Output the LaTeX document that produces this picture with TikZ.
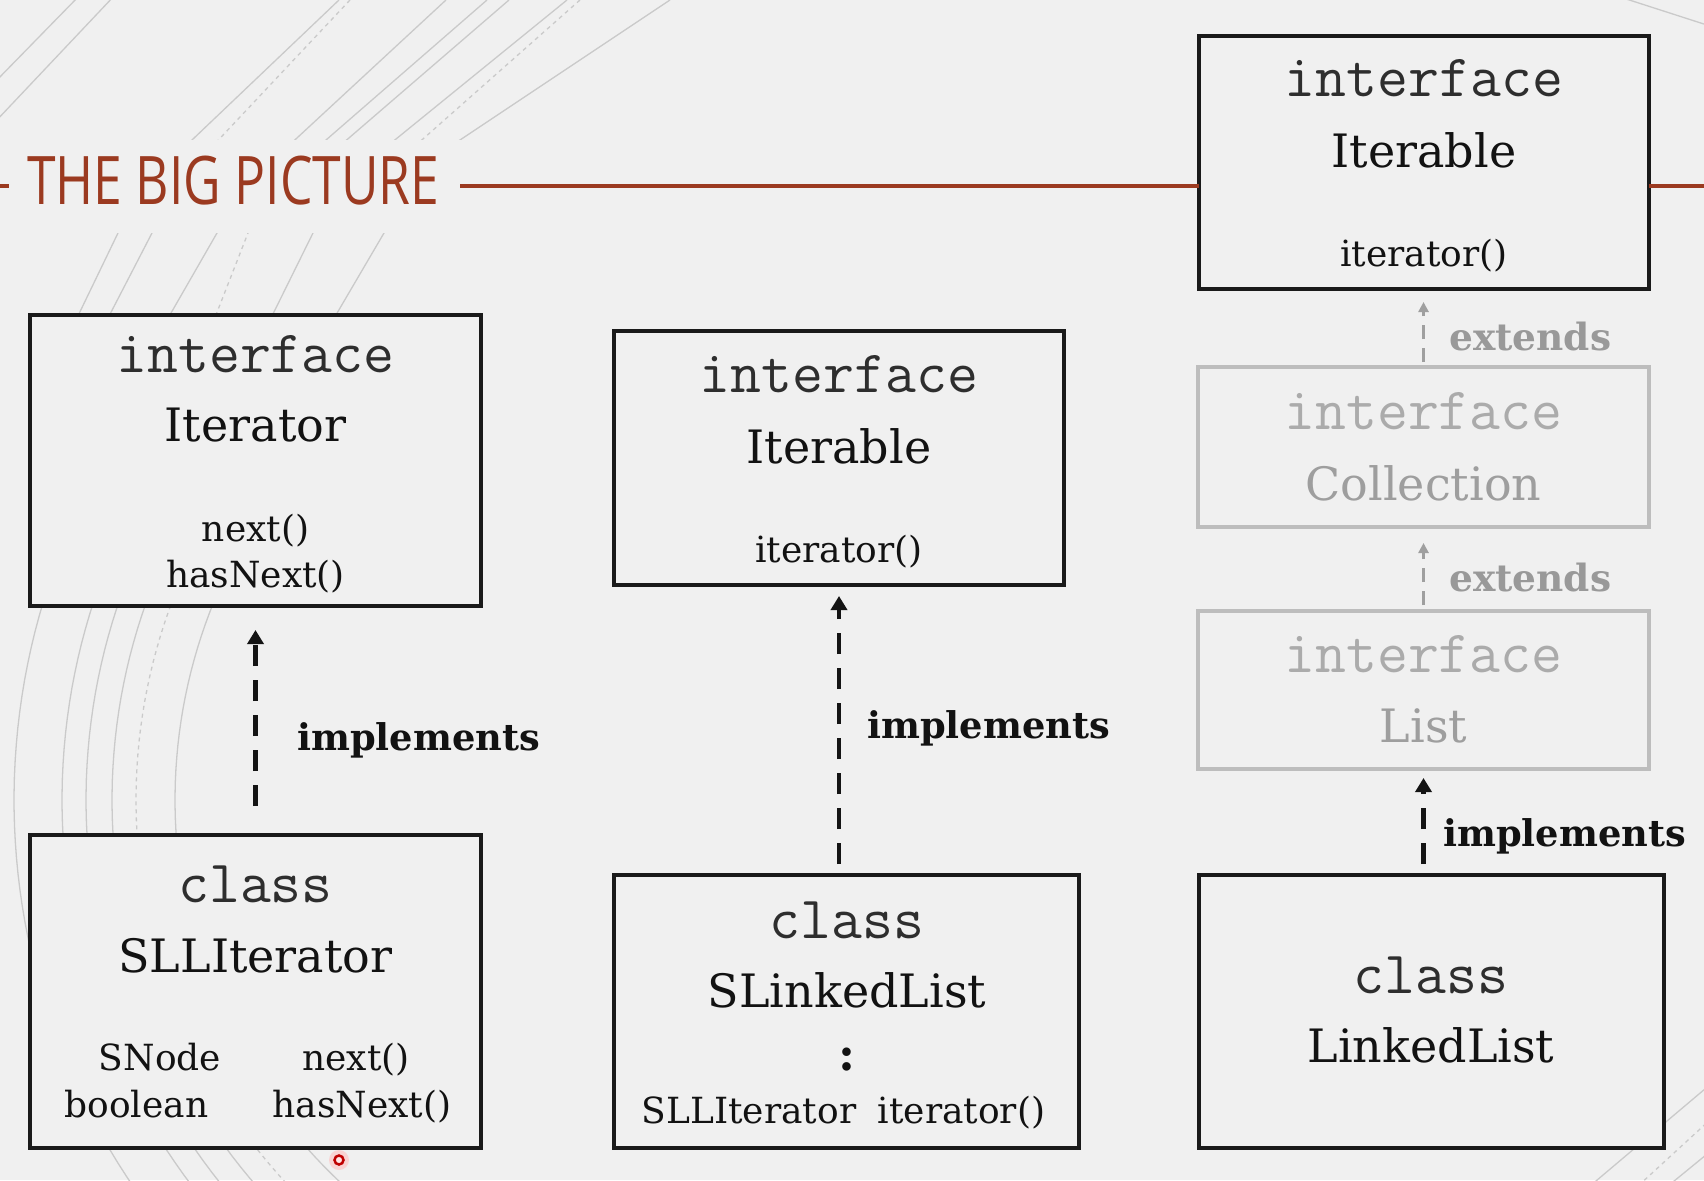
\documentclass[tikz,border=0pt]{standalone}
\usepackage{fontspec}
\setmainfont{DejaVu Serif}
\newfontfamily\titlefont{Open Sans}
\usetikzlibrary{arrows.meta}
\definecolor{bg}{HTML}{F0F0F0}
\definecolor{titlered}{RGB}{155,58,32}
\definecolor{boxline}{HTML}{1A1A1A}
\definecolor{grayline}{HTML}{BDBDBD}
\definecolor{monotext}{HTML}{2E2E2E}
\definecolor{nametext}{HTML}{121212}
\definecolor{graymono}{HTML}{ABABAB}
\definecolor{grayname}{HTML}{9E9E9E}
\definecolor{graylabel}{HTML}{999999}
\definecolor{arcline}{HTML}{CACACA}
\begin{document}
\begin{tikzpicture}[x=1pt,y=-1pt,
  box/.style={draw=boxline, line width=4.5pt, fill=bg, inner sep=0pt, outer sep=0pt, anchor=north west},
  gbox/.style={draw=grayline, line width=3.5pt, fill=bg, inner sep=0pt, outer sep=0pt, anchor=north west},
  kw/.style={font=\ttfamily\fontsize{60}{60}\selectfont, text=monotext, anchor=base, inner sep=0pt},
  gkw/.style={kw, text=graymono},
  nm/.style={font=\fontsize{46}{46}\selectfont, text=nametext, anchor=base, inner sep=0pt},
  gnm/.style={nm, text=grayname},
  mb/.style={font=\fontsize{36}{36}\selectfont, text=nametext, anchor=base, inner sep=0pt},
  rel/.style={font=\bfseries\fontsize{36.8}{37}\selectfont, text=nametext, anchor=base west, inner sep=0pt},
  grel/.style={rel, font=\bfseries\fontsize{37.5}{38}\selectfont, text=graylabel},
  impl/.style={draw=black!92, line width=4.5pt, dash pattern=on 21pt off 14pt, -{Triangle[length=14pt,width=16pt]}},
  ext/.style={draw=gray!75, line width=3pt, dash pattern=on 14pt off 9pt, -{Triangle[length=10pt,width=10pt]}},
  bgarc/.style={draw=arcline, line width=1.3pt},
  dotarc/.style={bgarc, dash pattern=on 4pt off 4pt}
]
\useasboundingbox (0,0) rectangle (1704,1180);
\fill[bg] (0,0) rectangle (1704,1180);

% background arcs
\begin{scope}
\clip (0,0) rectangle (1704,1180);
\foreach \r in {525,588,614,638,686}
  \draw[bgarc] plot[domain=125:205, samples=60] ({700+\r*cos(\x)}, {800+\r*sin(\x)});
\draw[dotarc] plot[domain=125:205, samples=60] ({700+564*cos(\x)}, {800+564*sin(\x)});
\foreach \a/\s in {339/1.05,446/1.08,487/1.15,509/1.16,567/1.23,670/1.5}
  \draw[bgarc] (\a,0) -- ({\a-\s*200},200);
\foreach \a/\s in {350/0.94,580/1.13}
  \draw[dotarc] (\a,0) -- ({\a-\s*200},200);
\foreach \t/\b in {118/76,152/107,217/167,313/270,384/333}
  \draw[bgarc] ({\t+(\t-\b)/87*40},193) -- ({\b-(\t-\b)/87*30},350);
\draw[dotarc] ({248+34/87*40},193) -- ({214-34/87*30},350);
\draw[bgarc] (-5,82) -- (80,-5);
\draw[bgarc] (-5,122) -- (115,-5);
\draw[bgarc] (1620,-3) -- (1710,26);
\draw[bgarc] (1712,1083) -- (1590,1186);
\draw[dotarc] (1712,1118) -- (1638,1186);
\draw[bgarc] (1712,1150) -- (1668,1186);
\end{scope}
\fill[bg] (0,140) rectangle (1190,233);

% title
\node[anchor=base west, inner sep=0pt, text=titlered, font=\titlefont\fontsize{67}{67}\selectfont] (title) at (27,204) {\scalebox{0.77}[1]{THE BIG PICTURE}};
\coordinate (rl1) at (460,186);
\coordinate (rl2) at (1704,186);
\coordinate (rl0) at (0,186);
\coordinate (rl0e) at (9,186);

% boxes
\node[box, minimum width=450pt, minimum height=253pt] (ti) at (1199,36) {};
\node[box, minimum width=451pt, minimum height=291pt] (it) at (30,315) {};
\node[box, minimum width=450pt, minimum height=254pt] (mi) at (614,331) {};
\node[gbox, minimum width=451pt, minimum height=160pt] (coll) at (1198,367) {};
\node[gbox, minimum width=451pt, minimum height=158pt] (list) at (1198,611) {};
\node[box, minimum width=451pt, minimum height=313pt] (si) at (30,835) {};
\node[box, minimum width=465pt, minimum height=273pt] (sl) at (614,875) {};
\node[box, minimum width=465pt, minimum height=273pt] (ll) at (1199,875) {};

\draw[titlered, line width=3.5pt] (rl1) -- (rl1 -| ti.west);
\draw[titlered, line width=3.5pt] (rl2 -| ti.east) -- (rl2);
\draw[titlered, line width=3.5pt] (rl0) -- (rl0e);

% texts: top Iterable
\node[kw] (tikw) at (1424,97) {interface};
\node[nm] (tinm) at (1424,167) {Iterable};
\node[mb] (timb) at (1424,266) {iterator()};
% Iterator
\node[kw] (itkw) at (255.5,372) {interface};
\node[nm] (itnm) at (255.5,441) {Iterator};
\node[mb] (itmb1) at (255.5,541) {next()};
\node[mb] (itmb2) at (255.5,587) {hasNext()};
% middle Iterable
\node[kw] (mikw) at (839,392) {interface};
\node[nm] (minm) at (839,463) {Iterable};
\node[mb] (mimb) at (839,562) {iterator()};
% Collection
\node[gkw] (cokw) at (1423.5,429) {interface};
\node[gnm] (conm) at (1423.5,500) {Collection};
% List
\node[gkw] (lskw) at (1423.5,672) {interface};
\node[gnm] (lsnm) at (1423.5,742) {List};
% SLLIterator
\node[kw] (sikw) at (255.5,902) {class};
\node[nm] (sinm) at (255.5,972) {SLLIterator};
\node[mb] (sif1) at (160,1070) {SNode};
\node[mb] (sif2) at (136.5,1117) {boolean};
\node[mb] (sim1) at (356,1070) {next()};
\node[mb] (sim2) at (362,1117) {hasNext()};
% SLinkedList
\node[kw] (slkw) at (847,938) {class};
\node[nm] (slnm) at (847,1007) {SLinkedList};
\node[nm, font=\bfseries\fontsize{46}{46}\selectfont] (sldots) at (847,1070) {:};
\node[mb] (slf) at (749,1123) {SLLIterator};
\node[mb] (slm) at (961.5,1123) {iterator()};
% LinkedList
\node[kw] (llkw) at (1431,993) {class};
\node[nm] (llnm) at (1431,1062) {LinkedList};

% arrows
\draw[impl, shorten <=29pt, shorten >=24pt] (si.north) -- (it.south);
\draw[impl, shorten <=11pt, shorten >=11pt] (sl.north -| mi.south) -- (mi.south);
\draw[impl, shorten <=11pt, shorten >=9pt] (ll.north -| list.south) -- (list.south);
\draw[ext, shorten <=5pt, shorten >=13pt] (coll.north) -- (ti.south -| coll.north);
\draw[ext, shorten <=6pt, shorten >=16pt] (list.north) -- (coll.south);

% labels
\node[rel] (lab1) at (297,750) {implements};
\node[rel] (lab2) at (867,738) {implements};
\node[rel] (lab3) at (1443,846) {implements};
\node[grel] (lab4) at (1449,350) {extends};
\node[grel] (lab5) at (1449,591) {extends};

% pointer marker
\fill[red!25, opacity=0.6] (339,1160) circle (10);
\draw[red!75!black, line width=2.5pt, fill=red!10] (339,1160) circle (4.5);
\end{tikzpicture}
\end{document}
